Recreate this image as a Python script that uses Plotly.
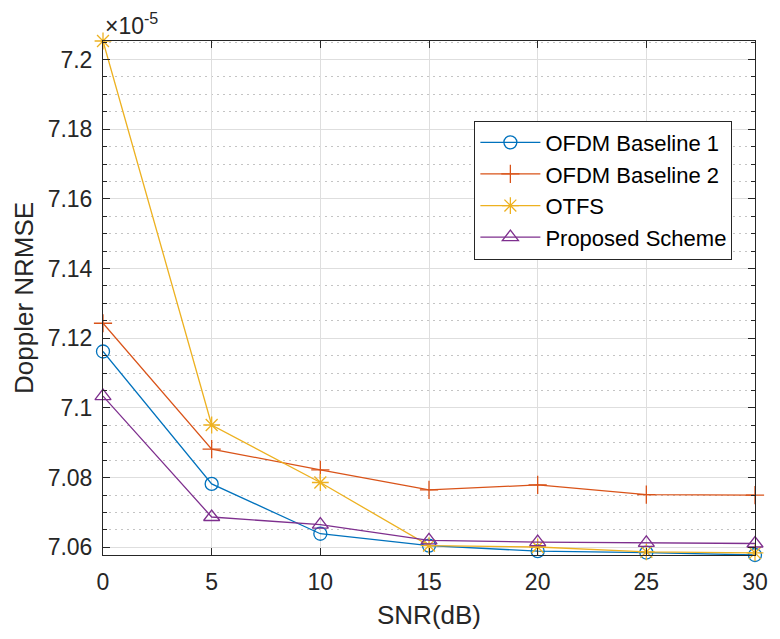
import plotly.graph_objects as go

snr = [0, 5, 10, 15, 20, 25, 30]
ofdm_b1 = [7.1162, 7.0782, 7.0639, 7.0605, 7.0589, 7.0585, 7.0578]
ofdm_b2 = [7.1243, 7.0882, 7.0822, 7.0765, 7.0779, 7.0751, 7.0750]
otfs = [7.2053, 7.0951, 7.0786, 7.0605, 7.0601, 7.0587, 7.0584]
proposed = [7.1034, 7.0687, 7.0665, 7.0620, 7.0615, 7.0613, 7.0611]

series_names = ["OFDM Baseline 1", "OFDM Baseline 2", "OTFS", "Proposed Scheme"]
y_tick_vals = [7.06, 7.08, 7.10, 7.12, 7.14, 7.16, 7.18, 7.20]
y_tick_text = ["7.06", "7.08", "7.1", "7.12", "7.14", "7.16", "7.18", "7.2"]
x_tick_vals = [0, 5, 10, 15, 20, 25, 30]

colors = ["#0072BD", "#D95319", "#EDB120", "#7E2F8E"]
symbols = ["circle-open", "cross-thin-open", "asterisk-open", "triangle-up-open"]
sizes = [13, 13, 14, 14]

fig = go.Figure()
for name, ys, c, s, sz in zip(series_names, [ofdm_b1, ofdm_b2, otfs, proposed], colors, symbols, sizes):
    fig.add_trace(go.Scatter(
        x=snr, y=ys, name=name, mode="lines+markers",
        line=dict(color=c, width=1.3),
        marker=dict(symbol=s, size=sz, color=c, line=dict(color=c, width=1.3)),
        cliponaxis=False,
    ))

all_vals = ofdm_b1 + ofdm_b2 + otfs + proposed
ymin, ymax = min(all_vals), max(all_vals)

axis_col = "#262626"
font_family = "Liberation Sans, Arial, sans-serif"

fig.update_layout(
    width=780, height=639,
    margin=dict(l=103, r=17, t=41, b=84),
    paper_bgcolor="white", plot_bgcolor="white",
    font=dict(family=font_family, size=23, color=axis_col),
    showlegend=True,
    legend=dict(
        x=0.5696, y=0.8452, xanchor="left", yanchor="top",
        bgcolor="white", bordercolor=axis_col, borderwidth=1,
        font=dict(size=22, color="black", family=font_family),
        itemwidth=60, tracegroupgap=0,
    ),
    xaxis=dict(
        range=[0, 30], tickvals=x_tick_vals,
        showline=True, linecolor=axis_col, linewidth=1, mirror="ticks",
        ticks="inside", ticklen=7, tickcolor=axis_col,
        showgrid=True, gridcolor="#dedede", gridwidth=1,
        zeroline=False, ticklabelstandoff=6,
    ),
    yaxis=dict(
        range=[ymin, ymax], tickvals=y_tick_vals, ticktext=y_tick_text,
        showline=True, linecolor=axis_col, linewidth=1, mirror="ticks",
        ticks="inside", ticklen=7, tickcolor=axis_col,
        showgrid=True, gridcolor="#dedede", gridwidth=1,
        zeroline=False, ticklabelstandoff=5,
        minor=dict(dtick=0.005, tick0=7.06, ticks="inside", ticklen=4, tickcolor=axis_col,
                   showgrid=True, gridcolor="#c4c4c4", griddash="2px,4px", gridwidth=1),
    ),
    annotations=[
        dict(text="×10<sup>-5</sup>", xref="paper", yref="paper", x=0, y=1,
             xanchor="left", yanchor="bottom", showarrow=False, xshift=0, yshift=0,
             font=dict(size=23, color=axis_col)),
        dict(text="SNR(dB)", xref="paper", yref="paper", x=0.5, y=0,
             xanchor="center", yanchor="middle", showarrow=False, yshift=-60,
             font=dict(size=26, color=axis_col)),
        dict(text="Doppler NRMSE", xref="paper", yref="paper", x=0, y=0.5,
             xanchor="center", yanchor="middle", showarrow=False, xshift=-79, textangle=-90,
             font=dict(size=26, color=axis_col)),
    ],
)

fig.write_html("out.html", config={"displayModeBar": False},
               post_script="document.body.style.margin='0';")
